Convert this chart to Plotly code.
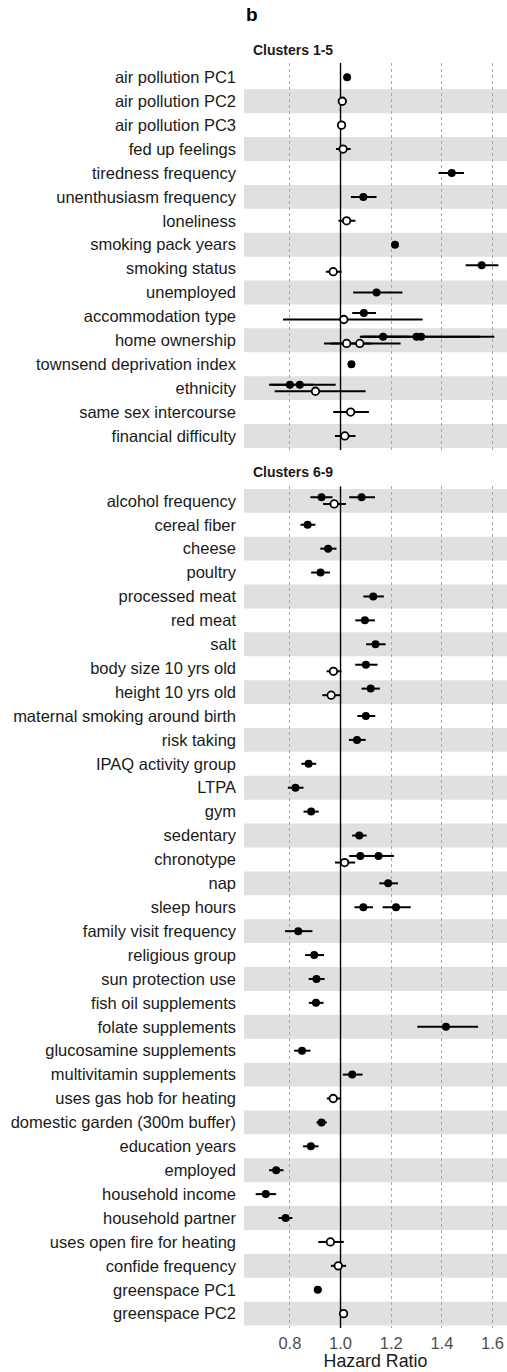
import plotly.graph_objects as go

# ---------------- data ----------------
p1_labels = ["air pollution PC1", "air pollution PC2", "air pollution PC3", "fed up feelings",
             "tiredness frequency", "unenthusiasm frequency", "loneliness", "smoking pack years",
             "smoking status", "unemployed", "accommodation type", "home ownership",
             "townsend deprivation index", "ethnicity", "same sex intercourse", "financial difficulty"]

p2_labels = ["alcohol frequency", "cereal fiber", "cheese", "poultry", "processed meat", "red meat",
             "salt", "body size 10 yrs old", "height 10 yrs old", "maternal smoking around birth",
             "risk taking", "IPAQ activity group", "LTPA", "gym", "sedentary", "chronotype", "nap",
             "sleep hours", "family visit frequency", "religious group", "sun protection use",
             "fish oil supplements", "folate supplements", "glucosamine supplements",
             "multivitamin supplements", "uses gas hob for heating", "domestic garden (300m buffer)",
             "education years", "employed", "household income", "household partner",
             "uses open fire for heating", "confide frequency", "greenspace PC1", "greenspace PC2"]

# panel 1 points (Clusters 1-5)
p1_row = ["air pollution PC1", "air pollution PC2", "air pollution PC3", "fed up feelings",
          "tiredness frequency", "unenthusiasm frequency", "loneliness", "smoking pack years",
          "smoking status", "smoking status", "unemployed", "accommodation type", "accommodation type",
          "home ownership", "home ownership", "home ownership", "home ownership", "home ownership",
          "townsend deprivation index", "ethnicity", "ethnicity", "ethnicity",
          "same sex intercourse", "financial difficulty"]
p1_hr = [1.026, 1.007, 1.004, 1.010, 1.439, 1.090, 1.024, 1.215,
         1.557, 0.971, 1.142, 1.092, 1.013,
         1.168, 1.300, 1.318, 1.024, 1.076,
         1.043, 0.800, 0.839, 0.901, 1.040, 1.017]
p1_lo = [1.014, 1.001, 0.998, 0.982, 1.387, 1.041, 0.992, 1.207,
         1.494, 0.942, 1.050, 1.046, 0.773,
         1.076, 1.090, 1.080, 0.935, 0.960,
         1.036, 0.718, 0.724, 0.740, 0.971, 0.978]
p1_hi = [1.038, 1.013, 1.010, 1.040, 1.487, 1.142, 1.059, 1.223,
         1.623, 1.004, 1.244, 1.140, 1.324,
         1.268, 1.550, 1.607, 1.122, 1.237,
         1.050, 0.892, 0.981, 1.099, 1.112, 1.059]
p1_sig = [1, 0, 0, 0, 1, 1, 0, 1,
          1, 0, 1, 1, 0,
          1, 1, 1, 0, 0,
          1, 1, 1, 0, 0, 0]

# panel 2 points (Clusters 6-9)
p2_row = ["alcohol frequency", "alcohol frequency", "alcohol frequency", "cereal fiber", "cheese",
          "poultry", "processed meat", "red meat", "salt", "body size 10 yrs old", "body size 10 yrs old",
          "height 10 yrs old", "height 10 yrs old", "maternal smoking around birth", "risk taking",
          "IPAQ activity group", "LTPA", "gym", "sedentary", "chronotype", "chronotype", "chronotype",
          "nap", "sleep hours", "sleep hours", "family visit frequency", "religious group",
          "sun protection use", "fish oil supplements", "folate supplements", "glucosamine supplements",
          "multivitamin supplements", "uses gas hob for heating", "domestic garden (300m buffer)",
          "education years", "employed", "household income", "household partner",
          "uses open fire for heating", "confide frequency", "greenspace PC1", "greenspace PC2"]
p2_hr = [0.925, 1.083, 0.975, 0.870, 0.951,
         0.921, 1.129, 1.096, 1.138, 1.100, 0.972,
         1.119, 0.963, 1.100, 1.065,
         0.874, 0.822, 0.884, 1.074, 1.078, 1.150, 1.016,
         1.188, 1.090, 1.219, 0.833, 0.896,
         0.905, 0.903, 1.416, 0.848,
         1.046, 0.971, 0.925,
         0.883, 0.746, 0.705, 0.783,
         0.960, 0.991, 0.910, 1.012]
p2_lo = [0.881, 1.034, 0.931, 0.842, 0.920,
         0.884, 1.090, 1.058, 1.101, 1.058, 0.945,
         1.083, 0.928, 1.066, 1.033,
         0.845, 0.792, 0.854, 1.046, 1.034, 1.095, 0.978,
         1.153, 1.055, 1.166, 0.781, 0.860,
         0.874, 0.875, 1.303, 0.817,
         1.009, 0.946, 0.905,
         0.852, 0.718, 0.665, 0.755,
         0.912, 0.962, 0.896, 1.005]
p2_hi = [0.968, 1.136, 1.021, 0.901, 0.984,
         0.958, 1.171, 1.136, 1.178, 1.146, 1.004,
         1.155, 0.999, 1.137, 1.099,
         0.904, 0.854, 0.914, 1.103, 1.124, 1.211, 1.058,
         1.227, 1.128, 1.277, 0.889, 0.935,
         0.937, 0.933, 1.543, 0.881,
         1.087, 0.999, 0.946,
         0.913, 0.775, 0.746, 0.810,
         1.013, 1.022, 0.926, 1.019]
p2_sig = [1, 1, 0, 1, 1,
          1, 1, 1, 1, 1, 0,
          1, 0, 1, 1,
          1, 1, 1, 1, 1, 1, 0,
          1, 1, 1, 1, 1,
          1, 1, 1, 1,
          1, 0, 1,
          1, 1, 1, 1,
          0, 0, 1, 0]

null_hr = 1.0
x_ticks = [0.8, 1.0, 1.2, 1.4, 1.6]
x_ticktext = ["0.8", "1.0", "1.2", "1.4", "1.6"]
panel_titles = ["Clusters 1-5", "Clusters 6-9"]
x_title = "Hazard Ratio"
panel_tag = "b"

# ---------------- layout geometry ----------------
W, H = 507, 1372
ROW = 23.9
TOP = 63
n1, n2 = len(p1_labels), len(p2_labels)
h1 = (n1 + 0.2) * ROW
gap = 36.2
h2 = (n2 + 0.2) * ROW
plot_h = h1 + gap + h2
bottom = H - TOP - plot_h
left = 244.3
plot_w = W - left

dom_top = [(h2 + gap) / plot_h, 1.0]
dom_bot = [0.0, h2 / plot_h]

FONT = "Liberation Sans, Arial, Helvetica, sans-serif"
GRAY_BAND = "#E0E0E0"


def positions(rows, sigs, labels):
    ys = []
    for r, s in zip(rows, sigs):
        base = labels.index(r) + 1
        kinds = {sigs[j] for j, rr in enumerate(rows) if rr == r}
        off = 0.0
        if len(kinds) > 1:
            off = -0.145 if s else 0.13
        ys.append(base + off)
    return ys


fig = go.Figure()


def add_panel(rows, hr, lo, hi, sig, labels, xa, ya):
    n = len(labels)
    # reference line at HR = 1 spanning the panel
    fig.add_trace(go.Scatter(x=[null_hr, null_hr], y=[0.35, n + 0.6], mode="lines",
                             xaxis=xa, yaxis=ya, showlegend=False, hoverinfo="skip",
                             line=dict(color="black", width=1.4)))
    ys = positions(rows, sig, labels)
    for flag in (1, 0):
        idx = [i for i, s in enumerate(sig) if s == flag]
        if not idx:
            continue
        fig.add_trace(go.Scatter(
            x=[hr[i] for i in idx], y=[ys[i] for i in idx],
            mode="markers", xaxis=xa, yaxis=ya, showlegend=False, cliponaxis=False,
            error_x=dict(type="data", symmetric=False,
                         array=[hi[i] - hr[i] for i in idx],
                         arrayminus=[hr[i] - lo[i] for i in idx],
                         color="black", thickness=2, width=0),
            marker=dict(symbol="circle", size=8 if flag else 7.5,
                        color="black" if flag else "white",
                        line=dict(color="black", width=0 if flag else 1.8)),
        ))


add_panel(p1_row, p1_hr, p1_lo, p1_hi, p1_sig, p1_labels, "x2", "y2")
add_panel(p2_row, p2_hr, p2_lo, p2_hi, p2_sig, p2_labels, "x", "y")

shapes = []
for labels, xr, yr in ((p1_labels, "x2", "y2"), (p2_labels, "x", "y")):
    n = len(labels)
    for i in range(1, n + 1):
        if (n - i) % 2 == 0:
            shapes.append(dict(type="rect", xref=xr + " domain", yref=yr, x0=0, x1=1,
                               y0=i - 0.5, y1=i + 0.5, fillcolor=GRAY_BAND,
                               line=dict(width=0), layer="below"))

xrange = [0.619, 1.657]
common_x = dict(range=xrange, tickvals=x_ticks, showgrid=True, gridcolor="#A8A8A8",
                griddash="3px,3px", gridwidth=0.9, zeroline=False, showline=False, ticks="")
common_y = dict(showgrid=False, zeroline=False, showline=False, ticks="",
                tickfont=dict(size=16.5, color="#1a1a1a", family=FONT), ticklabelstandoff=7)

fig.update_layout(
    width=W, height=H,
    margin=dict(l=left, r=0, t=TOP, b=bottom, autoexpand=False),
    paper_bgcolor="white", plot_bgcolor="white",
    font=dict(family=FONT, color="#1a1a1a"),
    showlegend=False,
    shapes=shapes,
    xaxis=dict(**common_x, anchor="y", domain=[0, 1], ticktext=x_ticktext,
               tickfont=dict(size=16.5, color="#4D4D4D", family=FONT), ticklabelstandoff=3,
               title=dict(text=x_title, font=dict(size=17.8, color="#1a1a1a", family=FONT), standoff=3)),
    xaxis2=dict(**common_x, anchor="y2", domain=[0, 1], matches="x", showticklabels=False),
    yaxis=dict(**common_y, domain=dom_bot, range=[n2 + 0.6, 0.4],
               tickvals=list(range(1, n2 + 1)), ticktext=p2_labels),
    yaxis2=dict(**common_y, domain=dom_top, range=[n1 + 0.6, 0.4],
                tickvals=list(range(1, n1 + 1)), ticktext=p1_labels),
)


def py(px):
    # pixel y from top of page -> paper coordinate
    return (H - bottom - px) / plot_h


def pxx(px):
    return (px - left) / plot_w


fig.add_annotation(text="<b>%s</b>" % panel_tag, xref="paper", yref="paper", x=pxx(244.5), y=py(15),
                   xanchor="left", yanchor="middle", showarrow=False,
                   font=dict(size=19, color="black", family=FONT))
for t, ypx in zip(panel_titles, (50, 471.7)):
    fig.add_annotation(text="<b>%s</b>" % t, xref="paper", yref="paper", x=pxx(251.2), y=py(ypx),
                       xanchor="left", yanchor="middle", showarrow=False,
                       font=dict(size=14, color="#1a1a1a", family=FONT))

fig.write_html("out.html", config={"displayModeBar": False},
               post_script="document.body.style.margin='0';document.body.style.overflow='hidden';")
